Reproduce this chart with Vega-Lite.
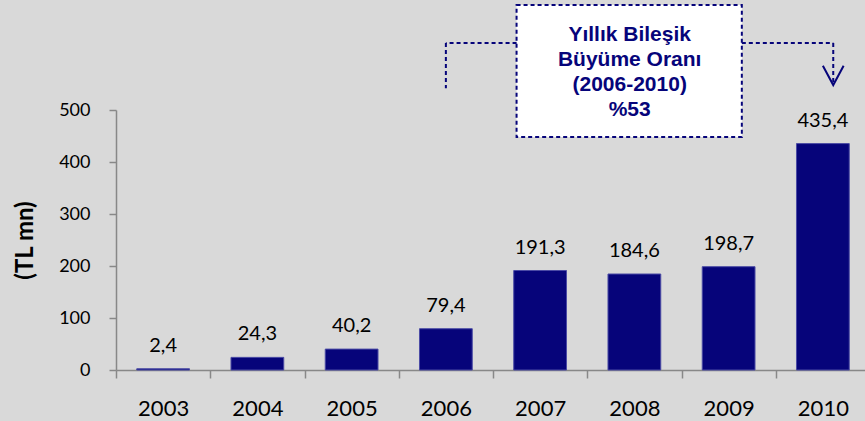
{
  "$schema": "https://vega.github.io/schema/vega-lite/v6.json",
  "autosize": {"type": "none"},
  "padding": {"left": 116, "top": 110, "right": 0, "bottom": 60},
  "width": 754,
  "height": 260,
  "background": "#d9d9d9",
  "config": {
    "view": {"stroke": null},
    "locale": {"number": {"decimal": ",", "thousands": ".", "grouping": [3], "currency": ["", " TL"]}}
  },
  "datasets": {
    "main": [
      {"year": "2003", "value": 2.4},
      {"year": "2004", "value": 24.3},
      {"year": "2005", "value": 40.2},
      {"year": "2006", "value": 79.4},
      {"year": "2007", "value": 191.3},
      {"year": "2008", "value": 184.6},
      {"year": "2009", "value": 198.7},
      {"year": "2010", "value": 435.4}
    ],
    "box": [{"x": 2006.75, "x2": 2009.14, "y": 702, "y2": 448}],
    "connectors": [
      {"x": 2006.75, "x2": 2006.0, "y": 629, "y2": 629},
      {"x": 2006.0, "x2": 2006.0, "y": 629, "y2": 542},
      {"x": 2009.14, "x2": 2010.11, "y": 629, "y2": 629},
      {"x": 2010.11, "x2": 2010.11, "y": 629, "y2": 550}
    ],
    "arrow": [
      {"x": 2010.0, "y": 585, "o": 1},
      {"x": 2010.11, "y": 548, "o": 2},
      {"x": 2010.22, "y": 585, "o": 3}
    ],
    "note": [{"x": 2007.95, "y": 644, "t": "Yıllık Bileşik\nBüyüme Oranı\n(2006-2010)\n%53"}]
  },
  "layer": [
    {
      "data": {"name": "main"},
      "mark": {"type": "bar", "width": {"band": 0.56}, "color": "#06047a", "stroke": "#4b4ba5", "strokeWidth": 1},
      "encoding": {
        "x": {
          "field": "year", "type": "ordinal",
          "scale": {"paddingInner": 0, "paddingOuter": 0},
          "axis": {
            "title": null, "labelAngle": 0, "tickBand": "extent", "tickSize": 8,
            "domainColor": "#888888", "tickColor": "#888888", "domainWidth": 1.5, "tickWidth": 1.5,
            "labelFont": "Lato", "labelFontSize": 22, "labelColor": "#000000", "labelPadding": 20
          }
        },
        "y": {
          "field": "value", "type": "quantitative",
          "scale": {"domain": [0, 500], "nice": false},
          "axis": {
            "values": [0, 100, 200, 300, 400, 500], "grid": false,
            "domainColor": "#888888", "tickColor": "#888888", "domainWidth": 1.5, "tickWidth": 1.5, "tickSize": 7,
            "labelFont": "Lato", "labelFontSize": 18, "labelColor": "#000000", "labelPadding": 19,
            "title": "(TL mn)", "titleFont": "Lato", "titleFontWeight": "bold", "titleFontSize": 24,
            "titleColor": "#000000", "titleAngle": -90, "titleX": -91, "titleY": 130,
            "titleAlign": "center", "titleBaseline": "middle"
          }
        }
      }
    },
    {
      "data": {"name": "main"},
      "mark": {"type": "text", "baseline": "alphabetic", "dy": -17, "font": "Lato", "fontSize": 20, "color": "#000000"},
      "encoding": {
        "x": {"field": "year", "type": "ordinal", "scale": {"paddingInner": 0, "paddingOuter": 0}, "axis": null},
        "y": {"field": "value", "type": "quantitative", "scale": {"domain": [0, 500], "nice": false}, "axis": null},
        "text": {"field": "value", "type": "quantitative", "format": ".1f"}
      }
    },
    {
      "data": {"name": "box"},
      "mark": {"type": "rect", "fill": "#ffffff", "stroke": "#06047a", "strokeWidth": 2, "strokeDash": [4, 3]},
      "encoding": {
        "x": {"field": "x", "type": "quantitative", "scale": {"domain": [2002.5, 2010.5], "nice": false, "zero": false}, "axis": null},
        "x2": {"field": "x2"},
        "y": {"field": "y", "type": "quantitative", "scale": {"domain": [0, 500], "nice": false}, "axis": null},
        "y2": {"field": "y2"}
      }
    },
    {
      "data": {"name": "connectors"},
      "mark": {"type": "rule", "stroke": "#06047a", "strokeWidth": 2, "strokeDash": [4, 3]},
      "encoding": {
        "x": {"field": "x", "type": "quantitative", "scale": {"domain": [2002.5, 2010.5], "nice": false, "zero": false}, "axis": null},
        "x2": {"field": "x2"},
        "y": {"field": "y", "type": "quantitative", "scale": {"domain": [0, 500], "nice": false}, "axis": null},
        "y2": {"field": "y2"}
      }
    },
    {
      "data": {"name": "arrow"},
      "mark": {"type": "line", "stroke": "#06047a", "strokeWidth": 2},
      "encoding": {
        "x": {"field": "x", "type": "quantitative", "scale": {"domain": [2002.5, 2010.5], "nice": false, "zero": false}, "axis": null},
        "y": {"field": "y", "type": "quantitative", "scale": {"domain": [0, 500], "nice": false}, "axis": null},
        "order": {"field": "o", "type": "quantitative"}
      }
    },
    {
      "data": {"name": "note"},
      "mark": {"type": "text", "lineBreak": "\n", "lineHeight": 25, "font": "Liberation Sans", "fontWeight": "bold", "fontSize": 21, "color": "#06047a", "align": "center", "baseline": "middle"},
      "encoding": {
        "x": {"field": "x", "type": "quantitative", "scale": {"domain": [2002.5, 2010.5], "nice": false, "zero": false}, "axis": null},
        "y": {"field": "y", "type": "quantitative", "scale": {"domain": [0, 500], "nice": false}, "axis": null},
        "text": {"field": "t", "type": "nominal"}
      }
    }
  ],
  "resolve": {"scale": {"x": "independent"}, "axis": {"y": "independent"}}
}
